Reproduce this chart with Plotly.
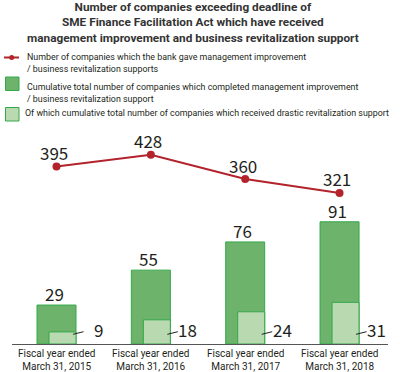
import plotly.graph_objects as go

# ---------------- data ----------------
categories = ["Fiscal year ended\nMarch 31, 2015", "Fiscal year ended\nMarch 31, 2016",
              "Fiscal year ended\nMarch 31, 2017", "Fiscal year ended\nMarch 31, 2018"]
support_companies = [395, 428, 360, 321]
completed_total = [29, 55, 76, 91]
drastic_total = [9, 18, 24, 31]

title_lines = ["Number of companies exceeding deadline of",
               "SME Finance Facilitation Act which have received",
               "management improvement and business revitalization support"]
legend_line = ["Number of companies which the bank gave management improvement",
               "/ business revitalization supports"]
legend_completed = ["Cumulative total number of companies which completed management improvement",
                    "/ business revitalization support"]
legend_drastic = ["Of which cumulative total number of companies which received drastic revitalization support"]

# ---------------- styles ----------------
FONT = "Noto Sans CJK JP"
FONT2 = "Roboto"
METRICS = {FONT: (1.16, 0.288), FONT2: (0.928, 0.244)}
TXT = "#231f20"
RED = "#b3232c"
DARK_FILL = "#6db36c"
LIGHT_FILL = "#b9d9b1"
EDGE = "#34a84a"

W, H = 400, 372
PL, PR, PT, PB = 12, 388, 140, 344
UNIT = (PR - PL) / (3.5135 + 0.4716)  # px per category
DARK_W = 39 / UNIT
LIGHT_W = 27 / UNIT
NUM_FS = 17
TICK_FS = 10
TITLE_FS = 11.8
LEG_FS = 8.9


def px(x):
    return (x - PL) / (PR - PL)


def py(y):
    return (PB - y) / (PB - PT)


def block_mid(b1, fs, n, family=FONT):
    """pixel y of the middle of an n-line text block whose first baseline is b1"""
    asc, desc = METRICS[family]
    return b1 - asc * fs + ((n - 1) * 1.3 * fs + (asc + desc) * fs) / 2


annotations = []
shapes = []


def add_text(x, baseline, lines, size, xanchor="left", bold=False, color=TXT, family=FONT):
    txt = "<br>".join(f"<b>{t}</b>" if bold else t for t in lines)
    annotations.append(dict(
        x=px(x), y=py(block_mid(baseline, size, len(lines), family)), xref="paper", yref="paper",
        text=txt, showarrow=False, xanchor=xanchor, yanchor="middle", align=xanchor,
        borderpad=0, borderwidth=0,
        font=dict(family=family, size=size, color=color)))


fig = go.Figure()
fig.add_trace(go.Bar(
    x=categories, y=completed_total, width=DARK_W, offset=-DARK_W / 2,
    marker=dict(color=DARK_FILL, line=dict(color=EDGE, width=1)),
    name="completed", hoverinfo="skip"))
fig.add_trace(go.Bar(
    x=categories, y=drastic_total, width=LIGHT_W, offset=DARK_W / 2 - LIGHT_W,
    marker=dict(color=LIGHT_FILL, line=dict(color=EDGE, width=1)),
    name="drastic", hoverinfo="skip"))
fig.add_trace(go.Scatter(
    x=categories, y=support_companies, yaxis="y2", mode="lines+markers",
    line=dict(color=RED, width=2), marker=dict(color=RED, size=8),
    name="support", hoverinfo="skip"))

# value labels
for k, v in enumerate(support_companies):
    annotations.append(dict(x=k, y=v, xref="x", yref="y2", text=str(v), showarrow=False,
                            xanchor="center", yanchor="bottom", xshift=-2.5, yshift=1.5,
                            borderpad=0, borderwidth=0,
                            font=dict(family=FONT, size=NUM_FS, color=TXT)))
for k, v in enumerate(completed_total):
    annotations.append(dict(x=k, y=v, xref="x", yref="y", text=str(v), showarrow=False,
                            xanchor="center", yanchor="bottom", xshift=-2.5, yshift=-1,
                            borderpad=0, borderwidth=0,
                            font=dict(family=FONT, size=NUM_FS, color=TXT)))
for k, v in enumerate(drastic_total):
    right = k + DARK_W / 2
    annotations.append(dict(x=right, y=py(block_mid(336.6, NUM_FS, 1)), xref="x", yref="paper",
                            text=str(v), showarrow=False, xanchor="right", yanchor="middle",
                            borderpad=0, borderwidth=0,
                            xshift=27, font=dict(family=FONT, size=NUM_FS, color=TXT)))
    shapes.append(dict(type="line", xref="x", yref="paper",
                       x0=right - 3 / UNIT, x1=right + 7.5 / UNIT,
                       y0=py(334.3), y1=py(331.7), line=dict(color=TXT, width=1)))

# category labels (two lines each)
for k, c in enumerate(categories):
    cx = PL + (k + 0.4716) * UNIT
    add_text(cx, 356.5, c.split("\n"), TICK_FS, xanchor="center", family=FONT2)

# title
add_text(193, 11.6, title_lines, TITLE_FS, xanchor="center", bold=True, color="#333333",
         family=FONT2)

# legend
add_text(26.7, 60.4, legend_line, LEG_FS, family=FONT2)
add_text(26.7, 90.0, legend_completed, LEG_FS, family=FONT2)
add_text(25, 115.7, legend_drastic, LEG_FS, family=FONT2)
shapes.append(dict(type="line", xref="paper", yref="paper", x0=px(4), x1=px(19),
                   y0=py(57.5), y1=py(57.5), line=dict(color=RED, width=2)))
shapes.append(dict(type="circle", xref="paper", yref="paper", x0=px(9.2), x1=px(14.2),
                   y0=py(55), y1=py(60), fillcolor=RED, line=dict(color=RED, width=0)))
shapes.append(dict(type="rect", xref="paper", yref="paper", x0=px(5.5), x1=px(19),
                   y0=py(77), y1=py(90.5), fillcolor=DARK_FILL, line=dict(color=EDGE, width=1)))
shapes.append(dict(type="rect", xref="paper", yref="paper", x0=px(5.5), x1=px(19),
                   y0=py(107.5), y1=py(121), fillcolor=LIGHT_FILL, line=dict(color=EDGE, width=1)))

fig.update_layout(
    width=W, height=H, margin=dict(l=PL, r=W - PR, t=PT, b=H - PB, pad=0),
    paper_bgcolor="white", plot_bgcolor="white", showlegend=False,
    barmode="overlay",
    xaxis=dict(range=[-0.4716, 3.5135], showticklabels=False, ticks="", showgrid=False,
               zeroline=False, showline=True, linecolor="#555555", linewidth=1, fixedrange=True),
    yaxis=dict(range=[0, (PB - PT) / 1.343], visible=False, fixedrange=True),
    yaxis2=dict(range=[(307.9 - PB) / 0.358, (307.9 - PT) / 0.358], overlaying="y",
                visible=False, fixedrange=True),
    annotations=annotations, shapes=shapes,
    font=dict(family=FONT, color=TXT),
)

fig.write_html("out.html", post_script="document.body.style.margin='0';",
               config={"displayModeBar": False})
